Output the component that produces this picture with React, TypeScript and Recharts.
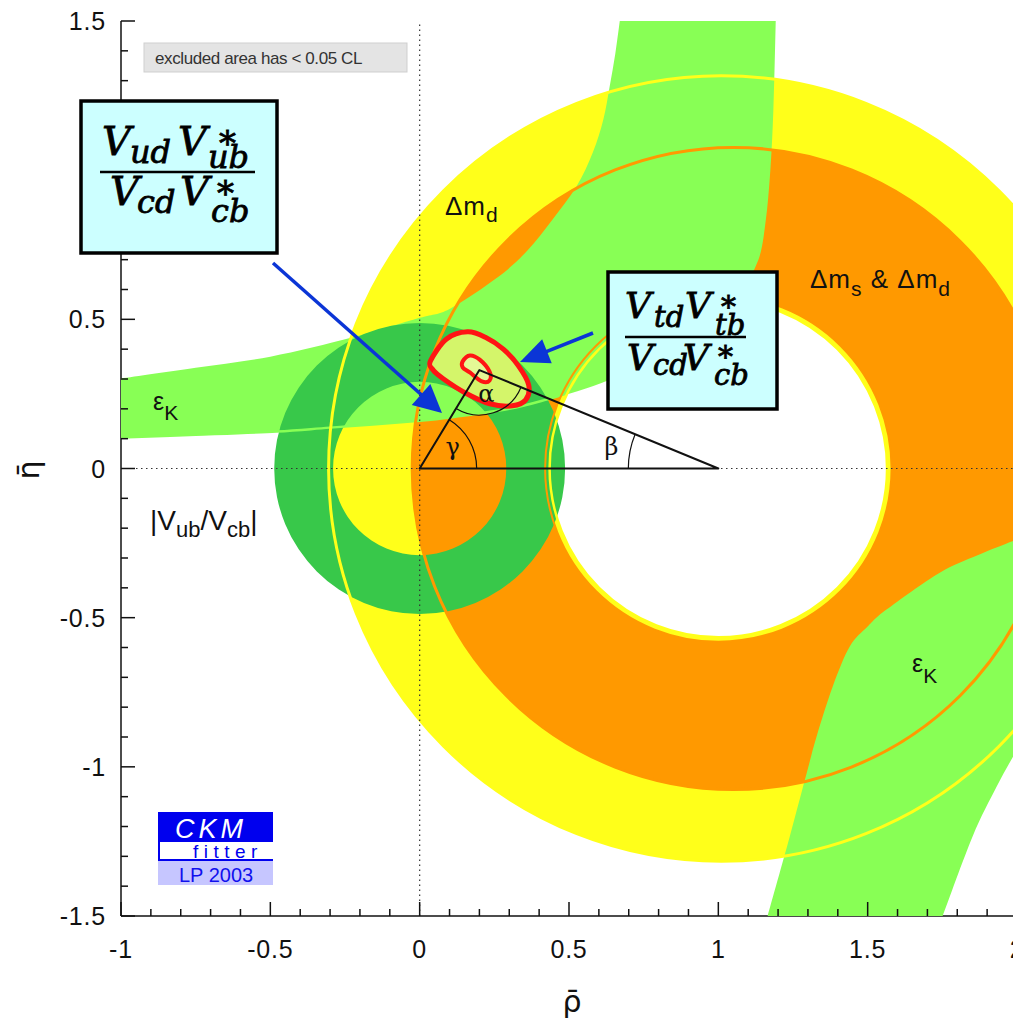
import React from "react"
import { ScatterChart, Scatter, XAxis, YAxis } from "recharts"

type Pt = { x: number; y: number }
type Circle = { cx: number; cy: number; r: number }

const W = 1013
const H = 1015

// axis ticks: minor every 0.1, labelled every 0.5
const xTicks = [-1, -0.9, -0.8, -0.7, -0.6, -0.5, -0.4, -0.3, -0.2, -0.1, 0, 0.1, 0.2, 0.3, 0.4, 0.5, 0.6, 0.7, 0.8, 0.9, 1, 1.1, 1.2, 1.3, 1.4, 1.5, 1.6, 1.7, 1.8, 1.9, 2]
const yTicks = [-1.5, -1.4, -1.3, -1.2, -1.1, -1, -0.9, -0.8, -0.7, -0.6, -0.5, -0.4, -0.3, -0.2, -0.1, 0, 0.1, 0.2, 0.3, 0.4, 0.5, 0.6, 0.7, 0.8, 0.9, 1, 1.1, 1.2, 1.3, 1.4, 1.5]
const xLabels = [-1, -0.5, 0, 0.5, 1, 1.5, 2]
const yLabels = [-1.5, -1, -0.5, 0, 0.5, 1, 1.5]

// constraint circles (rho, eta, radius)
const dmdOuter: Circle = { cx: 1.01, cy: 0, r: 1.315 }
const dmdInner: Circle = { cx: 1.0, cy: 0, r: 0.565 }
const dmsOuter: Circle = { cx: 1.05, cy: 0, r: 1.075 }
const dmsInner: Circle = { cx: 1.0, cy: 0, r: 0.58 }
const vubOuter: Circle = { cx: 0, cy: 0, r: 0.487 }
const vubInner: Circle = { cx: 0, cy: 0, r: 0.29 }

// eps_K, upper-left branch
const epsUpHigh: Pt[] = [
    { x: -1.0, y: 0.302 }, { x: -0.75, y: 0.338 }, { x: -0.5, y: 0.375 }, { x: -0.224, y: 0.44 },
    { x: 0.0, y: 0.505 }, { x: 0.1, y: 0.535 }, { x: 0.26, y: 0.64 }, { x: 0.36, y: 0.73 },
    { x: 0.445, y: 0.835 }, { x: 0.525, y: 0.945 }, { x: 0.58, y: 1.06 }, { x: 0.615, y: 1.17 },
    { x: 0.636, y: 1.28 }, { x: 0.655, y: 1.39 }, { x: 0.67, y: 1.5 },
]
const epsUpLow: Pt[] = [
    { x: -1.0, y: 0.104 }, { x: -0.75, y: 0.113 }, { x: -0.479, y: 0.124 }, { x: -0.3, y: 0.137 },
    { x: 0.0, y: 0.16 }, { x: 0.124, y: 0.174 }, { x: 0.3, y: 0.2 }, { x: 0.425, y: 0.231 },
    { x: 0.502, y: 0.255 }, { x: 0.626, y: 0.298 }, { x: 0.8, y: 0.38 }, { x: 0.95, y: 0.48 },
    { x: 1.06, y: 0.58 }, { x: 1.13, y: 0.7 }, { x: 1.155, y: 0.835 }, { x: 1.17, y: 1.0 },
    { x: 1.18, y: 1.2 }, { x: 1.188, y: 1.5 },
]
// eps_K, lower-right branch
const epsLowLeft: Pt[] = [
    { x: 1.165, y: -1.5 }, { x: 1.239, y: -1.234 }, { x: 1.299, y: -1.009 }, { x: 1.329, y: -0.898 },
    { x: 1.383, y: -0.731 }, { x: 1.44, y: -0.597 }, { x: 1.5, y: -0.53 }, { x: 1.563, y: -0.473 },
    { x: 1.74, y: -0.35 }, { x: 1.87, y: -0.29 }, { x: 2.0, y: -0.238 },
]
const epsLowRight: Pt[] = [
    { x: 1.751, y: -1.5 }, { x: 1.851, y: -1.234 }, { x: 1.932, y: -1.066 }, { x: 2.0, y: -0.942 },
]

// global fit contours
const fitOuter: Pt[] = [
    { x: 0.036, y: 0.36 }, { x: 0.09, y: 0.434 }, { x: 0.16, y: 0.458 }, { x: 0.22, y: 0.44 },
    { x: 0.28, y: 0.4 }, { x: 0.33, y: 0.345 }, { x: 0.365, y: 0.28 }, { x: 0.355, y: 0.23 },
    { x: 0.31, y: 0.21 }, { x: 0.235, y: 0.217 }, { x: 0.15, y: 0.255 }, { x: 0.08, y: 0.3 },
    { x: 0.045, y: 0.33 },
]
const fitInner: Pt[] = [
    { x: 0.144, y: 0.359 }, { x: 0.168, y: 0.379 }, { x: 0.201, y: 0.365 }, { x: 0.234, y: 0.325 },
    { x: 0.234, y: 0.295 }, { x: 0.208, y: 0.292 }, { x: 0.168, y: 0.322 }, { x: 0.144, y: 0.339 },
]

// unitarity triangle: origin, (1,0), apex
const triangle: Pt[] = [{ x: 0, y: 0 }, { x: 1, y: 0 }, { x: 0.2, y: 0.33 }]
const rhoZero: Pt[] = [{ x: 0, y: -1.5 }, { x: 0, y: 1.5 }]
const etaZero: Pt[] = [{ x: -1, y: 0 }, { x: 2, y: 0 }]

const YELLOW = "#ffff1a"
const ORANGE = "#ff9900"
const LGREEN = "#88ff55"
const DGREEN = "#38c84a"
const RED = "#ff1414"
const BLUE = "#0b35d6"
const sans = "'Liberation Sans', Arial, sans-serif"
const serif = "'DejaVu Serif', serif"

const circlePts = (c: Circle): Pt[] => [{ x: c.cx, y: c.cy }, { x: c.cx + c.r, y: c.cy }]
const ringPts = (o: Circle, i: Circle) => [...circlePts(o), ...circlePts(i)]
const bandPts = (a: Pt[], b: Pt[]) => [...a, ...b.slice().reverse()]

// catmull-rom through points
function through(pts: Pt[], closed = false, move = true) {
    const n = pts.length
    const at = (i: number) => closed ? pts[(i + n) % n] : pts[Math.min(n - 1, Math.max(0, i))]
    let d = `${move ? "M" : "L"}${pts[0].x},${pts[0].y}`
    const segs = closed ? n : n - 1
    for (let i = 0; i < segs; i++) {
        const p0 = at(i - 1), p1 = at(i), p2 = at(i + 1), p3 = at(i + 2)
        d += ` C${p1.x + (p2.x - p0.x) / 6},${p1.y + (p2.y - p0.y) / 6} ${p2.x - (p3.x - p1.x) / 6},${p2.y - (p3.y - p1.y) / 6} ${p2.x},${p2.y}`
    }
    return closed ? d + " Z" : d
}

const circleD = (c: Pt, e: Pt) => {
    const r = Math.abs(e.x - c.x)
    return `M${c.x + r},${c.y} A${r},${r} 0 1 0 ${c.x - r},${c.y} A${r},${r} 0 1 0 ${c.x + r},${c.y} Z`
}

const Empty = () => <g />

const ring = (fill: string) => (p: any) => {
    const q = p.points
    return <path d={circleD(q[0], q[1]) + " " + circleD(q[2], q[3])} fill={fill} fillRule="evenodd" stroke="none" />
}
const edge = (stroke: string, w: number) => (p: any) =>
    <path d={circleD(p.points[0], p.points[1])} fill="none" stroke={stroke} strokeWidth={w} />
const band = (n: number, fill: string) => (p: any) => {
    const q = p.points
    return <path d={through(q.slice(0, n)) + " " + through(q.slice(n), false, false) + " Z"} fill={fill} stroke="none" />
}
const curve = (stroke: string, w: number) => (p: any) =>
    <path d={through(p.points)} fill="none" stroke={stroke} strokeWidth={w} />
const contour = (fill: string, w: number) => (p: any) =>
    <path d={through(p.points, true)} fill={fill} stroke={RED} strokeWidth={w} strokeLinejoin="round" />
const dotted = (p: any) => {
    const [a, b] = p.points
    return <path d={`M${a.x},${a.y} L${b.x},${b.y}`} stroke="#333" strokeWidth={1.2} strokeDasharray="1.5 3.5" fill="none" />
}

function arcD(v: Pt, p: Pt, q: Pt, r: number) {
    const l1 = Math.hypot(p.x - v.x, p.y - v.y), l2 = Math.hypot(q.x - v.x, q.y - v.y)
    const u1 = { x: (p.x - v.x) / l1, y: (p.y - v.y) / l1 }
    const u2 = { x: (q.x - v.x) / l2, y: (q.y - v.y) / l2 }
    const sweep = u1.x * u2.y - u1.y * u2.x > 0 ? 1 : 0
    return `M${v.x + r * u1.x},${v.y + r * u1.y} A${r},${r} 0 0 ${sweep} ${v.x + r * u2.x},${v.y + r * u2.y}`
}

const triangleLine = (p: any) => {
    const [o, b, a] = p.points
    const greek = { fontFamily: serif, fontSize: 24, fill: "#111", textAnchor: "middle" as const }
    return (
        <g>
            <path d={`M${o.x},${o.y} L${b.x},${b.y} L${a.x},${a.y} Z`} fill="none" stroke="#111" strokeWidth={2} strokeLinejoin="round" />
            <path d={arcD(o, b, a, 57)} fill="none" stroke="#111" strokeWidth={1.2} />
            <path d={arcD(a, o, b, 45)} fill="none" stroke="#111" strokeWidth={1.2} />
            <path d={arcD(b, a, o, 90)} fill="none" stroke="#111" strokeWidth={1.2} />
            <text x={o.x + 33} y={o.y - 14} {...greek}>γ</text>
            <text x={a.x + 7} y={a.y + 32} {...greek}>α</text>
            <text x={b.x - 107} y={b.y - 14} {...greek}>β</text>
        </g>
    )
}

const tickStroke = { stroke: "#111", strokeWidth: 1.5 }
const labelStyle = { fontFamily: sans, fontSize: 25, fill: "#111", letterSpacing: 0.8 }

const BottomTick = ({ x, y, payload }: any) => {
    const major = xLabels.includes(payload.value)
    return (
        <g>
            <line x1={x} y1={y} x2={x} y2={y - (major ? 14 : 7)} {...tickStroke} />
            {major && <text x={x} y={y + 42} textAnchor="middle" {...labelStyle}>{payload.value}</text>}
        </g>
    )
}
const TopTick = ({ x, y, payload }: any) => {
    const major = xLabels.includes(payload.value)
    return <line x1={x} y1={y} x2={x} y2={y + (major ? 14 : 7)} {...tickStroke} />
}
const LeftTick = ({ x, y, payload }: any) => {
    const major = yLabels.includes(payload.value)
    return (
        <g>
            <line x1={x} y1={y} x2={x + (major ? 14 : 7)} y2={y} {...tickStroke} />
            {major && <text x={x - 15} y={y + 9} textAnchor="end" {...labelStyle}>{payload.value}</text>}
        </g>
    )
}
const RightTick = ({ x, y, payload }: any) => {
    const major = yLabels.includes(payload.value)
    return <line x1={x} y1={y} x2={x - (major ? 14 : 7)} y2={y} {...tickStroke} />
}

// fraction glyphs: text, x, baseline, size (overlay pixels)
type Glyph = [string, number, number, number]
const fracUb: Glyph[] = [
    ["V", 94, 147, 40], ["ud", 122, 155, 32], ["V", 170, 147, 40], ["ub", 200, 160, 32], ["*", 211, 147, 34],
    ["V", 102, 197, 40], ["cd", 129, 205, 32], ["V", 172, 197, 40], ["cb", 203, 214, 32], ["*", 209, 197, 34],
]
const fracTb: Glyph[] = [
    ["V", 617, 310, 36], ["td", 646, 319, 29], ["V", 677, 310, 36], ["tb", 707, 327, 29], ["*", 713, 309, 30],
    ["V", 619, 362, 36], ["cd", 645, 367, 29], ["V", 675, 362, 36], ["cb", 706, 377, 29], ["*", 710, 359, 30],
]

function Frac({ glyphs, bar }: { glyphs: Glyph[]; bar: [number, number, number] }) {
    return (
        <g>
            {glyphs.map(([t, x, y, s], i) => (
                <text key={i} x={x} y={y} fontFamily={serif} fontStyle="italic" fontSize={s} fill="#000"
                    stroke="#000" strokeWidth={0.8}>{t}</text>
            ))}
            <line x1={bar[0]} x2={bar[1]} y1={bar[2]} y2={bar[2]} stroke="#000" strokeWidth={2.4} />
        </g>
    )
}

function Arrow({ x1, y1, x2, y2, len, half }: { x1: number; y1: number; x2: number; y2: number; len: number; half: number }) {
    const l = Math.hypot(x2 - x1, y2 - y1)
    const ux = (x2 - x1) / l, uy = (y2 - y1) / l
    const bx = x2 - ux * len, by = y2 - uy * len
    return (
        <g>
            <line x1={x1} y1={y1} x2={bx + ux * 2} y2={by + uy * 2} stroke={BLUE} strokeWidth={3.5} />
            <path d={`M${x2},${y2} L${bx - uy * half},${by + ux * half} L${bx + uy * half},${by - ux * half} Z`} fill={BLUE} />
        </g>
    )
}

function Overlay() {
    const lab = { fontFamily: sans, fill: "#111" }
    return (
        <svg width={W} height={H} style={{ position: "absolute", left: 0, top: 0, pointerEvents: "none" }}>
            <rect x={136} y={35} width={263} height={29} fill="#e4e4e4" stroke="#cfcfcf" />
            <text x={147} y={56} fontFamily={sans} fontSize={17} fill="#333" letterSpacing={-0.4}>excluded area has &lt; 0.05 CL</text>

            <text x={437} y={207} fontSize={26} {...lab} letterSpacing={1}>Δm<tspan fontSize={21} dy={7}>d</tspan></text>
            <text x={802} y={280} fontSize={26} {...lab} letterSpacing={1}>Δm<tspan fontSize={21} dy={8}>s</tspan><tspan dy={-8}> &amp; Δm</tspan><tspan fontSize={21} dy={8}>d</tspan></text>
            <text x={145} y={402} fontSize={25} {...lab}>ε<tspan fontSize={21} dy={10}>K</tspan></text>
            <text x={904} y={664} fontSize={25} {...lab}>ε<tspan fontSize={21} dy={11}>K</tspan></text>
            <text x={142} y={522} fontSize={28} {...lab}>|V<tspan fontSize={22} dy={7}>ub</tspan><tspan dy={-7}>/V</tspan><tspan fontSize={22} dy={7}>cb</tspan><tspan dy={-7}>|</tspan></text>

            <text transform="translate(31,462) rotate(-90)" textAnchor="middle" fontFamily="'DejaVu Sans', sans-serif" fontSize={30} fill="#111">η̄</text>
            <text x={564} y={1004} textAnchor="middle" fontFamily="'DejaVu Sans', sans-serif" fontSize={30} fill="#111">ρ̄</text>

            <rect x={73} y={93} width={196} height={152} fill="#ccffff" stroke="#000" strokeWidth={3.5} />
            <Frac glyphs={fracUb} bar={[92, 247, 164]} />
            <rect x={600} y={264} width={169} height={137} fill="#ccffff" stroke="#000" strokeWidth={3.5} />
            <Frac glyphs={fracTb} bar={[617, 738, 329]} />

            <Arrow x1={265} y1={255} x2={434} y2={405} len={28} half={14} />
            <Arrow x1={585} y1={325} x2={512} y2={354} len={29} half={13} />

            <rect x={150} y={804} width={115} height={30} fill="#0000ee" />
            <text x={167} y={830} fontFamily={sans} fontStyle="italic" fontSize={27} fill="#fff" letterSpacing={4}>CKM</text>
            <rect x={150} y={834} width={115} height={19} fill="#fff" />
            <line x1={151} x2={151} y1={834} y2={853} stroke="#0000ee" strokeWidth={2} />
            <line x1={150} x2={265} y1={852} y2={852} stroke="#0000ee" strokeWidth={2} />
            <text x={185} y={850} fontFamily={sans} fontSize={19} fill="#0000ee" letterSpacing={5.5}>fitter</text>
            <rect x={150} y={853} width={115} height={24} fill="#c6c6ff" />
            <text x={171} y={874} fontFamily={sans} fontSize={20} fill="#1010ee">LP 2003</text>
        </svg>
    )
}

export default function App() {
    const axisLine = { stroke: "#111", strokeWidth: 1.5 }
    return (
        <div style={{ position: "relative", width: W, height: H }}>
            <ScatterChart width={W} height={H} margin={{ top: 13, right: 4, bottom: 0, left: 0 }}>
                <XAxis dataKey="x" type="number" domain={[-1, 2]} allowDataOverflow ticks={xTicks} interval={0}
                    height={107} tickSize={0} tickMargin={0} tickLine={false} axisLine={axisLine} tick={BottomTick} />
                <XAxis xAxisId="top" orientation="top" type="number" domain={[-1, 2]} allowDataOverflow ticks={xTicks} interval={0}
                    height={0} tickSize={0} tickMargin={0} tickLine={false} axisLine={axisLine} tick={TopTick} />
                <YAxis dataKey="y" type="number" domain={[-1.5, 1.5]} allowDataOverflow ticks={yTicks} interval={0}
                    width={113} tickSize={0} tickMargin={0} tickLine={false} axisLine={axisLine} tick={LeftTick} />
                <YAxis yAxisId="right" orientation="right" type="number" domain={[-1.5, 1.5]} allowDataOverflow ticks={yTicks} interval={0}
                    width={0} tickSize={0} tickMargin={0} tickLine={false} axisLine={axisLine} tick={RightTick} />

                <Scatter data={ringPts(dmdOuter, dmdInner)} line={ring(YELLOW)} shape={Empty} isAnimationActive={false} />
                <Scatter data={ringPts(dmsOuter, dmsInner)} line={ring(ORANGE)} shape={Empty} isAnimationActive={false} />
                <Scatter data={bandPts(epsUpHigh, epsUpLow)} line={band(epsUpHigh.length, LGREEN)} shape={Empty} isAnimationActive={false} />
                <Scatter data={bandPts(epsLowLeft, epsLowRight)} line={band(epsLowLeft.length, LGREEN)} shape={Empty} isAnimationActive={false} />
                <Scatter data={ringPts(vubOuter, vubInner)} line={ring(DGREEN)} shape={Empty} isAnimationActive={false} />

                <Scatter data={epsUpLow} line={curve(LGREEN, 2.5)} shape={Empty} isAnimationActive={false} />
                <Scatter data={circlePts(dmsOuter)} line={edge(ORANGE, 3)} shape={Empty} isAnimationActive={false} />
                <Scatter data={circlePts(dmdOuter)} line={edge(YELLOW, 3)} shape={Empty} isAnimationActive={false} />
                <Scatter data={circlePts(dmsInner)} line={edge(ORANGE, 2)} shape={Empty} isAnimationActive={false} />
                <Scatter data={circlePts(dmdInner)} line={edge(YELLOW, 2.5)} shape={Empty} isAnimationActive={false} />

                <Scatter data={rhoZero} line={dotted} shape={Empty} isAnimationActive={false} />
                <Scatter data={etaZero} line={dotted} shape={Empty} isAnimationActive={false} />

                <Scatter data={fitOuter} line={contour("#d4f56a", 5)} shape={Empty} isAnimationActive={false} />
                <Scatter data={fitInner} line={contour("#e4f896", 4)} shape={Empty} isAnimationActive={false} />
                <Scatter data={triangle} line={triangleLine} shape={Empty} isAnimationActive={false} />
            </ScatterChart>
            <Overlay />
        </div>
    )
}
